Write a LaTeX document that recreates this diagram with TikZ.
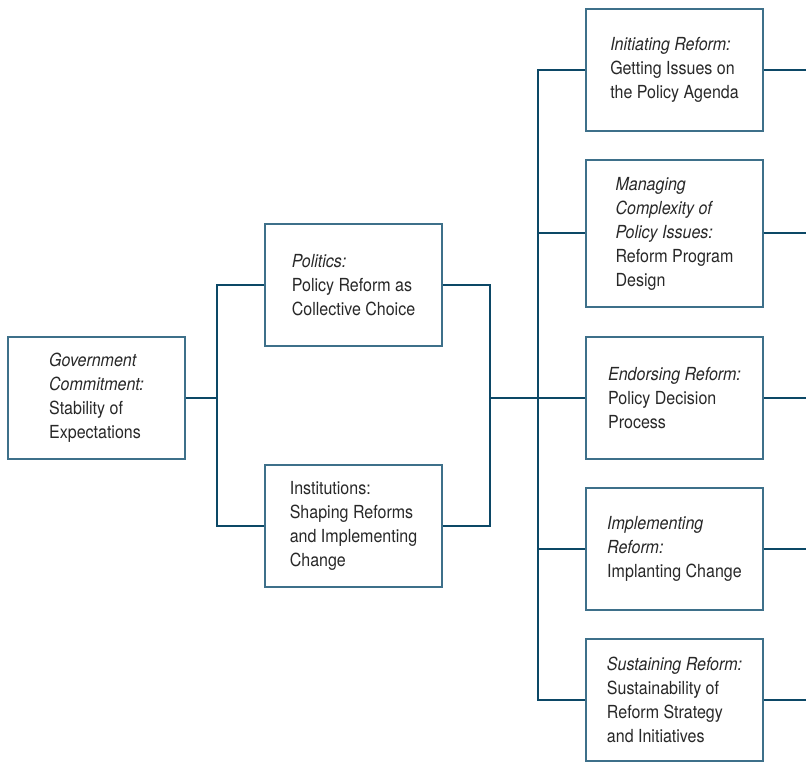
\documentclass[tikz,border=0pt]{standalone}
\usepackage{fontspec}
\setmainfont{TeX Gyre Heros}[FakeStretch=0.89]
\usepackage{xcolor}
\usetikzlibrary{calc}
\usetikzlibrary{positioning}
\definecolor{boxblue}{RGB}{62,112,138}
\definecolor{linkblue}{RGB}{12,72,102}
\definecolor{txtgray}{RGB}{40,40,40}

\tikzset{
    stage/.style={draw=boxblue, line width=1.1pt, minimum width=132.75pt,
        minimum height=91.5pt, align=left, text=txtgray,
        font=\fontsize{13.5}{18}\selectfont, inner sep=0pt},
    link/.style={draw=linkblue, line width=1.5pt}
}

\begin{document}
\begin{tikzpicture}[x=0.75pt, y=-0.75pt]
    \useasboundingbox (0,0) rectangle (806,762);

    % Commitment
    \node[stage] (gov) at (96.5,398) {\textit{Government}\\ \textit{Commitment:}\\ Stability of\\ Expectations};

    % Politics and institutions
    \node[stage] (pol) at (353.5,285) {\textit{Politics:}\\ Policy Reform as\\ Collective Choice};
    \node[stage] (inst) at (353.5,526) {Institutions:\\ Shaping Reforms\\ and Implementing\\ Change};

    % Reform stages
    \node[stage] (init) at (674.5,70) {\textit{Initiating Reform:}\\ Getting Issues on\\ the Policy Agenda};
    \node[stage, minimum height=110.25pt] (manage) at (674.5,233.5) {\textit{Managing}\\ \textit{Complexity of}\\ \textit{Policy Issues:}\\ Reform Program\\ Design};
    \node[stage] (endorse) at (674.5,398) {\textit{Endorsing Reform:}\\ Policy Decision\\ Process};
    \node[stage] (implement) at (674.5,549) {\textit{Implementing}\\ \textit{Reform:}\\ Implanting Change};
    \node[stage] (sustain) at (674.5,700) {\textit{Sustaining Reform:}\\ Sustainability of\\ Reform Strategy\\ and Initiatives};

    % Joints
    \coordinate (j1) at (217,398);
    \coordinate (j2) at (490,398);
    \coordinate (j3) at (538,398);

    % Connectors
    \draw[link] (gov.east) -- (j1);
    \draw[link] (pol.west) -| (j1);
    \draw[link] (inst.west) -| (j1);
    \draw[link] (pol.east) -| (j2);
    \draw[link] (inst.east) -| (j2);
    \draw[link] (j2) -- (j3);
    \foreach \s in {init,manage,endorse,implement,sustain} {
        \draw[link] (j3) |- (\s.west);
        \coordinate (\s-out) at (806,0 |- \s.east);
        \draw[link] (\s.east) -- (\s-out);
    }
\end{tikzpicture}
\end{document}
